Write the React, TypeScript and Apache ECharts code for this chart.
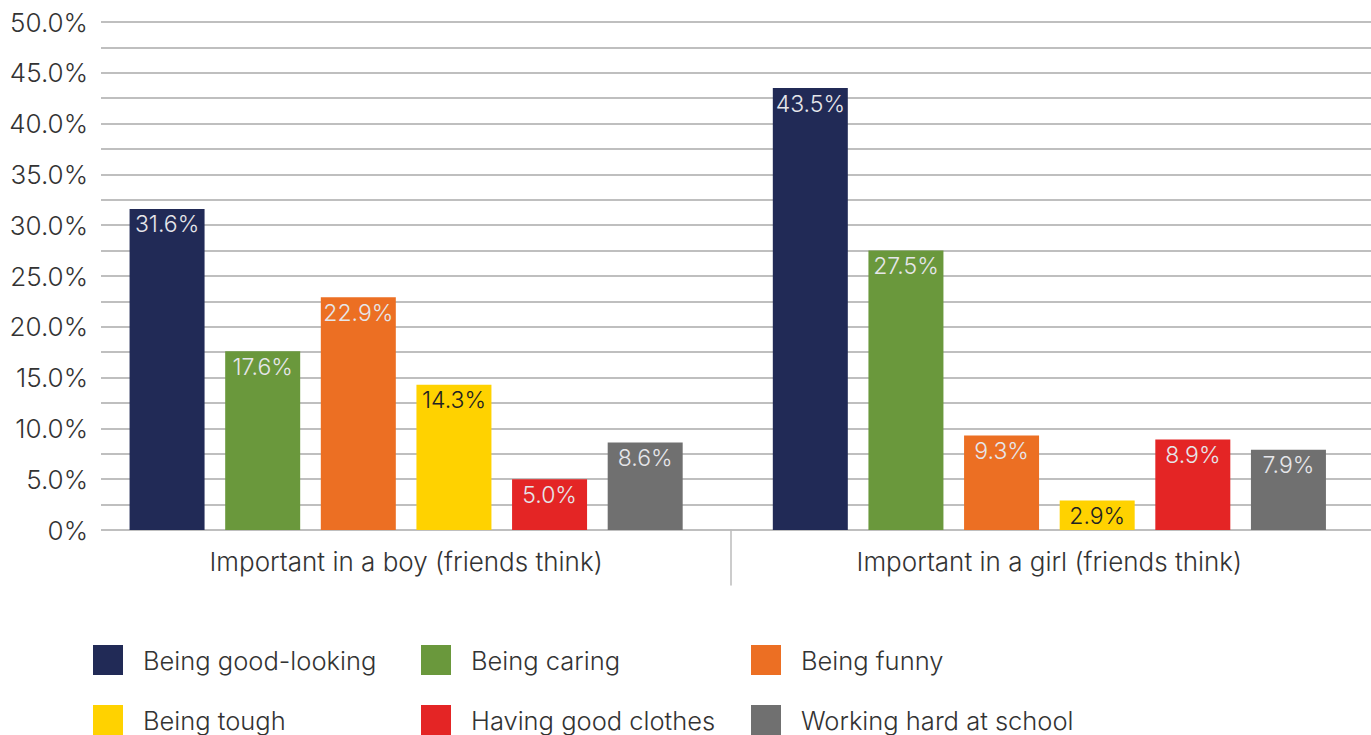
import React, { useEffect, useRef } from "react";
import * as echarts from "echarts";

const categories = ["Important in a boy (friends think)", "Important in a girl (friends think)"];
const seriesNames = [
  "Being good-looking",
  "Being caring",
  "Being funny",
  "Being tough",
  "Having good clothes",
  "Working hard at school",
];
const goodLooking = [31.6, 43.5];
const caring = [17.6, 27.5];
const funny = [22.9, 9.3];
const tough = [14.3, 2.9];
const clothes = [5.0, 8.9];
const hardWork = [8.6, 7.9];
const seriesValues = [goodLooking, caring, funny, tough, clothes, hardWork];
const colors = ["#212a56", "#6a983c", "#ec6f23", "#ffd200", "#e42525", "#707070"];
const labelColors = ["#e6e6ea", "#e6e6ea", "#e6e6ea", "#222222", "#e6e6ea", "#e6e6ea"];

const FONT = "Inter";

export default function App() {
  const ref = useRef<HTMLDivElement>(null);
  useEffect(() => {
    if (!ref.current) return;
    const chart = echarts.init(ref.current, null, { renderer: "svg" });
    const legendPos = [
      [93, 645],
      [421, 645],
      [751, 645],
      [93, 705],
      [421, 705],
      [751, 705],
    ];
    chart.setOption({
      animation: false,
      textStyle: { fontFamily: FONT },
      grid: [
        { left: 101, right: 0, top: 22, bottom: 205 },
        { left: 84.5, width: 1292, top: 22, bottom: 205 },
        { left: 730.5, width: 10, top: 530, height: 55 },
      ],
      xAxis: [
        { gridIndex: 0, type: "value", show: false, min: 0, max: 1 },
        {
          gridIndex: 1,
          type: "category",
          data: categories,
          axisLine: { show: false },
          axisTick: { show: false },
          axisLabel: {
            margin: 18,
            fontSize: 26,
            fontWeight: 300,
            color: "#333333",
            fontFamily: FONT,
          },
        },
        { gridIndex: 2, type: "value", show: false, min: 0, max: 1 },
      ],
      yAxis: [
        {
          gridIndex: 0,
          type: "value",
          min: 0,
          max: 50,
          interval: 2.5,
          axisLine: { show: false },
          axisTick: { show: false },
          splitLine: { lineStyle: { color: "#aaaaaa", width: 1.5 } },
          axisLabel: {
            margin: 13,
            fontSize: 26,
            fontWeight: 300,
            color: "#333333",
            fontFamily: FONT,
            formatter: (v: number) =>
              v === 0 ? "0%" : Math.abs(v % 5) < 1e-9 ? v.toFixed(1) + "%" : "",
          },
        },
        { gridIndex: 1, type: "value", min: 0, max: 50, show: false, splitLine: { show: false } },
        {
          gridIndex: 2,
          type: "value",
          min: 0,
          max: 1,
          axisLine: { show: true, lineStyle: { color: "#bbbbbb", width: 1.5 } },
          axisTick: { show: false },
          axisLabel: { show: false },
          splitLine: { show: false },
        },
      ],
      legend: seriesNames.map((name, i) => ({
        data: [name],
        left: legendPos[i][0],
        top: legendPos[i][1],
        padding: 0,
        itemWidth: 30,
        itemHeight: 30,
        icon: "rect",
        textStyle: {
          fontSize: 25.5,
          fontWeight: 300,
          color: "#333333",
          fontFamily: FONT,
          padding: [0, 0, 0, 15],
        },
      })),
      series: seriesNames.map((name, i) => ({
        name,
        type: "bar",
        xAxisIndex: 1,
        yAxisIndex: 1,
        data: seriesValues[i],
        barWidth: 75,
        barGap: "27.5%",
        itemStyle: { color: colors[i] },
        label: {
          show: true,
          position: "insideTop",
          distance: 4,
          fontSize: 23,
          fontWeight: 300,
          fontFamily: FONT,
          color: labelColors[i],
          formatter: (p: any) => p.value.toFixed(1) + "%",
        },
      })),
    });
    return () => chart.dispose();
  }, []);
  return <div ref={ref} style={{ width: 1371, height: 735, position: "absolute", left: 0, top: 0 }} />;
}
